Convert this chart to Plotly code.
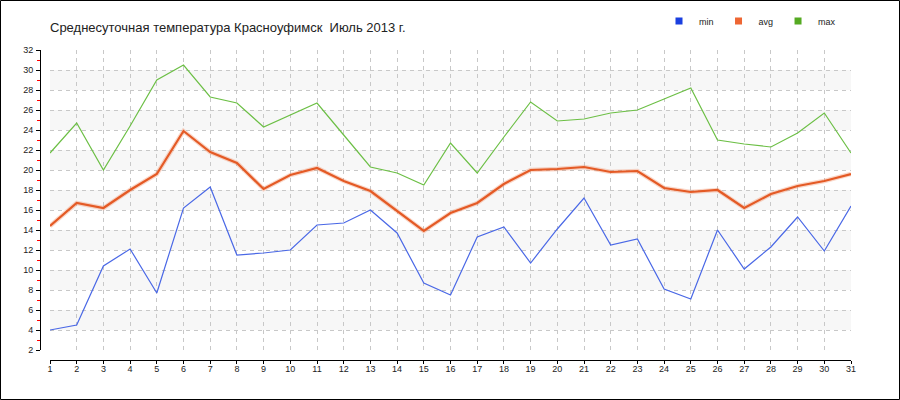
import plotly.graph_objects as go

days = list(range(1, 32))
t_min = [4.0, 4.5, 10.4, 12.1, 7.7, 16.2, 18.3, 11.5, 11.7, 12.0, 14.5,
         14.7, 16.0, 13.7, 8.7, 7.5, 13.3, 14.3, 10.7, 14.1, 17.2,
         12.5, 13.1, 8.1, 7.1, 14.0, 10.1, 12.3, 15.3, 11.9, 16.4]
t_avg = [14.4, 16.7, 16.2, 18.0, 19.6, 23.9, 21.8, 20.7, 18.1, 19.5, 20.2,
         18.9, 17.9, 15.9, 13.9, 15.7, 16.7, 18.6, 20.0, 20.1, 20.3,
         19.8, 19.9, 18.2, 17.8, 18.0, 16.2, 17.6, 18.4, 18.9, 19.6]
t_max = [21.7, 24.7, 20.0, 24.4, 29.0, 30.5, 27.3, 26.7, 24.3, 25.5, 26.7,
         23.5, 20.3, 19.7, 18.5, 22.7, 19.7, 23.3, 26.8, 24.9, 25.1,
         25.7, 26.0, 27.1, 28.2, 23.0, 22.6, 22.3, 23.7, 25.7, 21.7]
y_ticks = list(range(2, 33, 2))
title_text = "Среднесуточная температура Красноуфимск  Июль 2013 г."
series_names = ["min", "avg", "max"]

W, H = 900, 400
ML, MR, MT, MB = 40, 49, 50, 40
PW, PH = W - ML - MR, H - MT - MB
GAP = 10

fig = go.Figure()

# lines
fig.add_trace(go.Scatter(x=days, y=t_max, mode="lines", line=dict(color="#6cbf45", width=1.2),
                         showlegend=False, hoverinfo="x+y"))
fig.add_trace(go.Scatter(x=days, y=t_avg, mode="lines", line=dict(color="rgba(240,140,100,0.35)", width=4.5),
                         showlegend=False, hoverinfo="skip"))
fig.add_trace(go.Scatter(x=days, y=t_avg, mode="lines", line=dict(color="#e45a25", width=2.2),
                         showlegend=False, hoverinfo="x+y"))
fig.add_trace(go.Scatter(x=days, y=t_min, mode="lines", line=dict(color="#4a68e6", width=1.2),
                         showlegend=False, hoverinfo="x+y"))

# legend entries
leg_colors = ["#1a3fe0", "#ee6633", "#55aa22"]
for name, c in zip(series_names, leg_colors):
    fig.add_trace(go.Scatter(x=[None], y=[None], mode="markers", name=name,
                             marker=dict(symbol="square", size=7, color=c)))

# helper trace for the offset axes
fig.add_trace(go.Scatter(x=days, y=[None] * len(days), xaxis="x2", yaxis="y2",
                         mode="lines", showlegend=False, hoverinfo="skip"))

# alternating bands
for v in range(4, 30, 4):
    fig.add_shape(type="rect", xref="x domain", x0=0, x1=1, yref="y", y0=v, y1=v + 2,
                  fillcolor="#f7f7f7", line_width=0, layer="below")

# outer border
fig.add_shape(type="rect", xref="paper", yref="paper",
              x0=(0.5 - ML) / PW, x1=(W - 0.5 - ML) / PW,
              y0=(PH + MT - (H - 0.5)) / PH, y1=(PH + MT - 0.5) / PH,
              line=dict(color="black", width=1), fillcolor="rgba(0,0,0,0)")

grid = dict(showgrid=True, gridcolor="#c8c8c8", griddash="4px,4px", gridwidth=1,
            zeroline=False, showline=False, showticklabels=False, ticks="")

fig.update_layout(
    width=W, height=H,
    margin=dict(l=ML, r=MR, t=MT, b=MB, pad=0, autoexpand=False),
    paper_bgcolor="white", plot_bgcolor="rgba(0,0,0,0)",
    font=dict(family="Liberation Sans", size=9, color="#222"),
    title=dict(text=title_text, x=50 / W, xanchor="left", xref="container",
               y=1 - 27 / H, yanchor="middle", yref="container",
               pad=dict(l=0, r=0, t=0, b=0),
               font=dict(family="Liberation Sans", size=13, color="#222")),
    xaxis=dict(range=[1, 31], domain=[GAP / PW, 1], tickvals=days, **grid),
    yaxis=dict(range=[2, 32], domain=[GAP / PH, 1], tickvals=y_ticks, **grid),
    xaxis2=dict(range=[1, 31], overlaying="x", anchor="free", position=0,
                tickvals=days, ticktext=[str(d) for d in days],
                showline=True, linecolor="black", linewidth=1,
                ticks="outside", ticklen=3, tickcolor="black", tickwidth=1,
                ticklabelstandoff=-3,
                showgrid=False, zeroline=False, tickfont=dict(size=9, color="#222")),
    yaxis2=dict(range=[2, 32], overlaying="y", anchor="free", position=0,
                tickvals=y_ticks,
                showline=True, linecolor="black", linewidth=1,
                ticks="outside", ticklen=4, tickcolor="black", tickwidth=1,
                minor=dict(dtick=1, ticks="outside", ticklen=3, tickcolor="red", tickwidth=1),
                showgrid=False, zeroline=False, ticklabelstandoff=1,
                tickfont=dict(size=9, color="#222")),
    legend=dict(orientation="h", x=1 - 10 / PW, xanchor="right", y=1 + 29 / PH, yanchor="middle",
                font=dict(size=9, color="#222"), itemwidth=30, bgcolor="rgba(0,0,0,0)",
                tracegroupgap=0, itemclick=False),
    hovermode="closest",
)

fig.write_html(
    "out.html",
    config={"displayModeBar": False, "responsive": False},
    post_script=(
        "var gd=document.getElementById('{plot_id}');"
        "var p=gd.parentElement;p.style.position='fixed';p.style.left='0px';p.style.top='0px';"
    ),
)
